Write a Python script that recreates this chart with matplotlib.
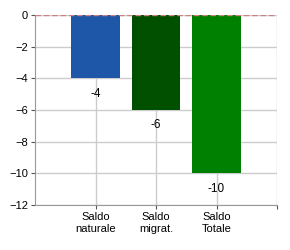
import matplotlib
matplotlib.use('Agg')
import matplotlib.pyplot as plt

plt.rcParams['font.family'] = ['Liberation Sans', 'DejaVu Sans']

categories = ['Saldo\nnaturale', 'Saldo\nmigrat.', 'Saldo\nTotale']
values = [-4, -6, -10]
colors = ['#1f57a8', '#005000', '#008000']

fig = plt.figure(figsize=(2.9, 2.5), dpi=100)
ax = fig.add_axes([35 / 290, 1 - 205 / 250, 242 / 290, 190 / 250])

pos = [1, 2, 3]
ax.bar(pos, values, width=0.8, color=colors, zorder=2)
for x, v in zip(pos, values):
    ax.annotate(str(v), (x, v), xytext=(0, -11), textcoords='offset points',
                ha='center', va='center', fontsize=8.5)

ax.axhline(0, color='#d08080', linestyle=(0, (4, 2)), linewidth=1, zorder=3)

ax.set_xlim(0, 4)
ax.set_ylim(-12, 0)
ax.set_yticks(range(-12, 1, 2))
ax.set_xticks([1, 2, 3, 4])
ax.set_xticklabels(categories + [''])
ax.tick_params(labelsize=8, length=3, color='#555555', pad=2)
ax.grid(True, color='#cccccc', linewidth=1, zorder=0)

for s in ['top', 'right']:
    ax.spines[s].set_visible(False)
ax.spines['left'].set_color('#999999')
ax.spines['bottom'].set_color('#999999')

fig.savefig('out.png', dpi=100)
